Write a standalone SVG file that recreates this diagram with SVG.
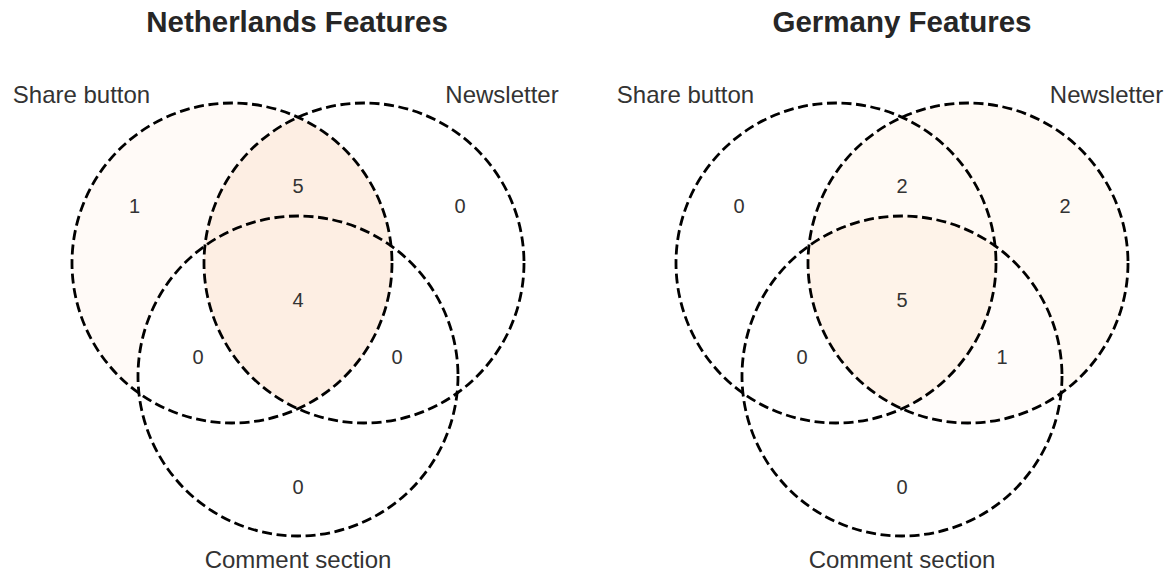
<svg xmlns="http://www.w3.org/2000/svg" width="1171" height="578" viewBox="0 0 1171 578">
<style>
.title{font-family:"Liberation Sans",Arial,sans-serif;font-size:29.5px;font-weight:bold;fill:#262626;text-anchor:middle}
.lbl{font-family:"Liberation Sans",Arial,sans-serif;font-size:24px;fill:#333333;text-anchor:middle}
.num{font-family:"Liberation Sans",Arial,sans-serif;font-size:20px;fill:#333333;text-anchor:middle}
.ring{fill:none;stroke:#000000;stroke-width:2.8;stroke-dasharray:10 4.6}
</style>
<rect x="0" y="0" width="1171" height="578" fill="#ffffff"/>
<g id="netherlands">
  <text class="title" x="297" y="32">Netherlands Features</text>
  <g id="nl-regions">
    <path id="nl-share-only" fill="#fffaf7" d="M298,117.25 A160,160 0 0 0 138.92,393.14 A160,160 0 0 1 204.92,245.86 A160,160 0 0 1 298,117.25 Z"/>
    <path id="nl-share-news" fill="#fdeee3" d="M298,117.25 A160,160 0 0 1 391.08,245.86 A160,160 0 0 0 204.92,245.86 A160,160 0 0 1 298,117.25 Z"/>
    <path id="nl-all" fill="#fdeee3" d="M204.92,245.86 A160,160 0 0 1 391.08,245.86 A160,160 0 0 1 298,408.75 A160,160 0 0 1 204.92,245.86 Z"/>
  </g>
  <g id="nl-share"><circle class="ring" cx="232" cy="263" r="160"/><text class="lbl" x="81.5" y="103">Share button</text></g>
  <g id="nl-news"><circle class="ring" cx="364" cy="263" r="160"/><text class="lbl" x="502" y="103">Newsletter</text></g>
  <g id="nl-comment"><circle class="ring" cx="298" cy="376" r="160"/><text class="lbl" x="298" y="568">Comment section</text></g>
  <g id="nl-counts">
    <text class="num" x="134.5" y="213">1</text>
    <text class="num" x="298" y="193">5</text>
    <text class="num" x="460" y="213">0</text>
    <text class="num" x="298" y="307">4</text>
    <text class="num" x="198" y="364">0</text>
    <text class="num" x="397" y="364">0</text>
    <text class="num" x="298" y="494">0</text>
  </g>
</g>
<g id="germany">
  <text class="title" x="902" y="32">Germany Features</text>
  <g id="de-regions">
    <path id="de-news-only" fill="#fffaf5" d="M902,117.25 A160,160 0 0 1 1061.08,393.14 A160,160 0 0 0 995.08,245.86 A160,160 0 0 0 902,117.25 Z"/>
    <path id="de-share-news" fill="#fffaf5" d="M902,117.25 A160,160 0 0 1 995.08,245.86 A160,160 0 0 0 808.92,245.86 A160,160 0 0 1 902,117.25 Z"/>
    <path id="de-all" fill="#fef3e9" d="M808.92,245.86 A160,160 0 0 1 995.08,245.86 A160,160 0 0 1 902,408.75 A160,160 0 0 1 808.92,245.86 Z"/>
    <path id="de-news-comment" fill="#fffcfa" d="M995.08,245.86 A160,160 0 0 1 1061.08,393.14 A160,160 0 0 1 902,408.75 A160,160 0 0 0 995.08,245.86 Z"/>
  </g>
  <g id="de-share"><circle class="ring" cx="836" cy="263" r="160"/><text class="lbl" x="685.5" y="103">Share button</text></g>
  <g id="de-news"><circle class="ring" cx="968" cy="263" r="160"/><text class="lbl" x="1106.5" y="103">Newsletter</text></g>
  <g id="de-comment"><circle class="ring" cx="902" cy="376" r="160"/><text class="lbl" x="902" y="568">Comment section</text></g>
  <g id="de-counts">
    <text class="num" x="739" y="213">0</text>
    <text class="num" x="902" y="193">2</text>
    <text class="num" x="1065" y="213">2</text>
    <text class="num" x="902" y="307">5</text>
    <text class="num" x="802" y="364">0</text>
    <text class="num" x="1002" y="364">1</text>
    <text class="num" x="902" y="494">0</text>
  </g>
</g>
<g id="connectors"></g>
</svg>
